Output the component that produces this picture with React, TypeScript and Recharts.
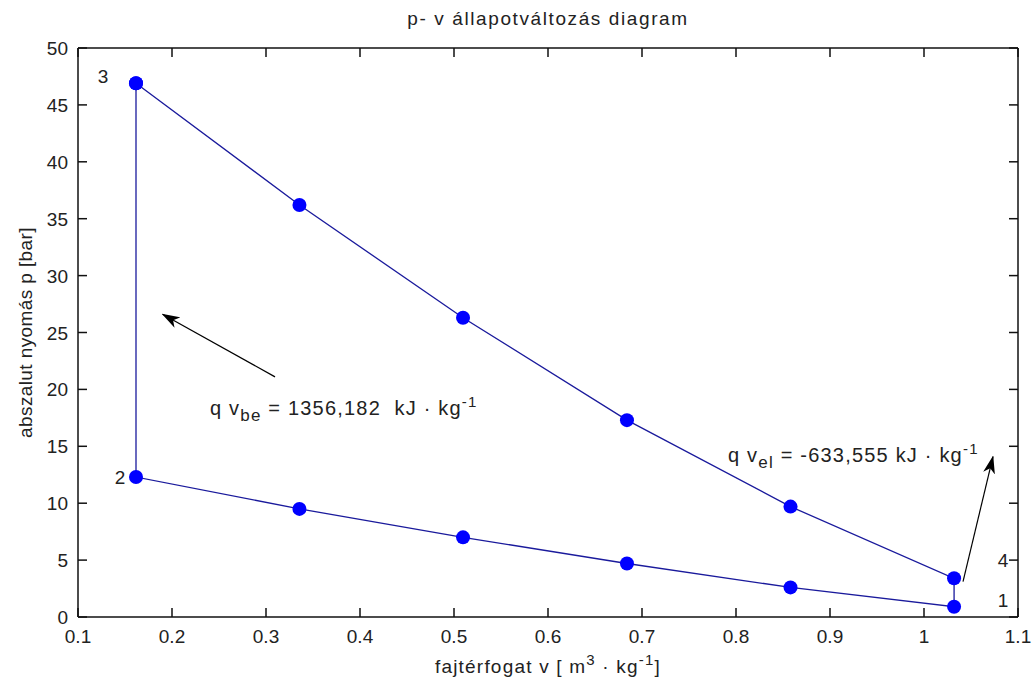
import {
  ScatterChart,
  Scatter,
  XAxis,
  YAxis,
  ReferenceLine,
  ReferenceDot,
} from "recharts";

// fajtérfogat v [m3/kg] at the measured states
const vValues = [0.1617, 0.3356, 0.5096, 0.684, 0.858, 1.032];
// upper branch 3 -> 4 (expansion) and lower branch 2 -> 1 (compression), bar
const pUpper = [46.9, 36.2, 26.3, 17.3, 9.7, 3.4];
const pLower = [12.3, 9.5, 7.0, 4.7, 2.6, 0.9];

const xTicks = [0.1, 0.2, 0.3, 0.4, 0.5, 0.6, 0.7, 0.8, 0.9, 1, 1.1];
const yTicks = [0, 5, 10, 15, 20, 25, 30, 35, 40, 45, 50];

// state numbers placed next to the corner points
const stateLabels = [
  { name: "3", v: 0.1266, p: 47.5 },
  { name: "2", v: 0.1447, p: 12.3 },
  { name: "4", v: 1.084, p: 5.0 },
  { name: "1", v: 1.084, p: 1.5 },
];

// heat arrows (tail -> head) in data units
const arrowBe = [
  { x: 0.3096, y: 21.1 },
  { x: 0.19, y: 26.6 },
];
const arrowEl = [
  { x: 1.0415, y: 3.1 },
  { x: 1.0734, y: 14.1 },
];

// closed cycle: 3 -> 4 along the upper branch, 1 -> 2 back along the lower one
const cycle = [
  ...vValues.map((v, i) => ({ v, p: pUpper[i] })),
  ...vValues
    .map((v, i) => ({ v, p: pLower[i] }))
    .reverse(),
  { v: vValues[0], p: pUpper[0] },
];

const X_MIN = 0.1;
const X_MAX = 1.1;
const Y_MIN = 0;
const Y_MAX = 50;
// inward tick length (~9px) expressed in axis units
const X_TICK_LEN = 0.0096;
const Y_TICK_LEN = 0.79;

const FONT = "'Liberation Sans', Arial, sans-serif";
const TXT = "#222";
const FS = 19;
const LS = 1.2;

const BottomTick = (props: any) => {
  const { x, y, payload } = props;
  return (
    <text x={x} y={y + 26} textAnchor="middle" fontSize={FS} fill={TXT} fontFamily={FONT}>
      {payload.value}
    </text>
  );
};

const LeftTick = (props: any) => {
  const { x, y, payload } = props;
  return (
    <text x={x} y={y + 7} textAnchor="end" fontSize={FS} fill={TXT} fontFamily={FONT}>
      {payload.value}
    </text>
  );
};

const Dot = (props: any) => (
  <circle cx={props.cx} cy={props.cy} r={7} fill="#0000ff" />
);

const axisLine = { stroke: "#111", strokeWidth: 1.5 };

const App = () => {
  return (
    <div style={{ position: "absolute", left: 0, top: 0, background: "#fff" }}>
      <svg width={0} height={0} style={{ position: "absolute" }}>
        <defs>
          <marker
            id="head"
            markerUnits="userSpaceOnUse"
            viewBox="0 0 18 12"
            markerWidth={18}
            markerHeight={12}
            refX={17}
            refY={6}
            orient="auto"
          >
            <path d="M0,0 L18,6 L0,12 L5,6 Z" fill="#000" />
          </marker>
        </defs>
      </svg>
      <ScatterChart
        width={1035}
        height={688}
        margin={{ top: 47, right: 16, bottom: 0, left: 0 }}
        style={{ fontFamily: FONT }}
      >
        <XAxis
          dataKey="v"
          type="number"
          domain={[X_MIN, X_MAX]}
          ticks={xTicks}
          allowDataOverflow
          height={71}
          tickSize={0}
          tickMargin={0}
          tickLine={false}
          axisLine={axisLine}
          tick={<BottomTick />}
          label={{
            content: (p: any) => {
              const vb = p.viewBox;
              return (
                <text
                  x={vb.x + vb.width / 2}
                  y={vb.y + 56}
                  textAnchor="middle"
                  fontSize={FS}
                  letterSpacing={LS}
                  fill={TXT}
                  fontFamily={FONT}
                >
                  fajtérfogat v [ m
                  <tspan dy={-8} fontSize={15}>3</tspan>
                  <tspan dy={8}> · kg</tspan>
                  <tspan dy={-8} fontSize={15}>-1</tspan>
                  <tspan dy={8}>]</tspan>
                </text>
              );
            },
          }}
        />
        <XAxis
          xAxisId="top"
          orientation="top"
          type="number"
          domain={[X_MIN, X_MAX]}
          ticks={xTicks}
          allowDataOverflow
          height={1}
          tickLine={false}
          tick={false}
          axisLine={axisLine}
          label={{
            content: (p: any) => {
              const vb = p.viewBox;
              return (
                <text
                  x={vb.x + vb.width / 2}
                  y={vb.y - 22}
                  textAnchor="middle"
                  fontSize={19}
                  letterSpacing={1.6}
                  fill={TXT}
                  fontFamily={FONT}
                >
                  p- v állapotváltozás diagram
                </text>
              );
            },
          }}
        />
        <YAxis
          dataKey="p"
          type="number"
          domain={[Y_MIN, Y_MAX]}
          ticks={yTicks}
          allowDataOverflow
          width={78}
          tickSize={0}
          tickMargin={10}
          tickLine={false}
          axisLine={axisLine}
          tick={<LeftTick />}
          label={{
            content: (p: any) => {
              const vb = p.viewBox;
              const cx = vb.x + 25;
              const cy = vb.y + vb.height / 2;
              return (
                <text
                  x={cx}
                  y={cy}
                  transform={`rotate(-90 ${cx} ${cy})`}
                  textAnchor="middle"
                  dominantBaseline="central"
                  fontSize={FS}
                  letterSpacing={0.4}
                  fill={TXT}
                  fontFamily={FONT}
                >
                  abszalut nyomás p [bar]
                </text>
              );
            },
          }}
        />
        <YAxis
          yAxisId="right"
          orientation="right"
          type="number"
          domain={[Y_MIN, Y_MAX]}
          ticks={yTicks}
          allowDataOverflow
          width={1}
          tickLine={false}
          tick={false}
          axisLine={axisLine}
        />

        {/* inward tick marks on all four sides (MATLAB box style) */}
        {xTicks.map((t) => (
          <ReferenceLine
            key={`xb-${t}`}
            segment={[
              { x: t, y: Y_MIN },
              { x: t, y: Y_MIN + Y_TICK_LEN },
            ]}
            stroke="#111"
            strokeWidth={1.5}
            ifOverflow="visible"
          />
        ))}
        {xTicks.map((t) => (
          <ReferenceLine
            key={`xt-${t}`}
            segment={[
              { x: t, y: Y_MAX },
              { x: t, y: Y_MAX - Y_TICK_LEN },
            ]}
            stroke="#111"
            strokeWidth={1.5}
            ifOverflow="visible"
          />
        ))}
        {yTicks.map((t) => (
          <ReferenceLine
            key={`yl-${t}`}
            segment={[
              { x: X_MIN, y: t },
              { x: X_MIN + X_TICK_LEN, y: t },
            ]}
            stroke="#111"
            strokeWidth={1.5}
            ifOverflow="visible"
          />
        ))}
        {yTicks.map((t) => (
          <ReferenceLine
            key={`yr-${t}`}
            segment={[
              { x: X_MAX, y: t },
              { x: X_MAX - X_TICK_LEN, y: t },
            ]}
            stroke="#111"
            strokeWidth={1.5}
            ifOverflow="visible"
          />
        ))}

        <Scatter
          data={cycle}
          isAnimationActive={false}
          line={{ stroke: "#1a1a9c", strokeWidth: 1.3 }}
          shape={<Dot />}
        />
        <ReferenceLine
          segment={arrowBe}
          stroke="#000"
          strokeWidth={1.2}
          markerEnd="url(#head)"
          ifOverflow="visible"
        />
        <ReferenceLine
          segment={arrowEl}
          stroke="#000"
          strokeWidth={1.2}
          markerEnd="url(#head)"
          ifOverflow="visible"
        />
        {stateLabels.map((s) => (
          <ReferenceDot
            key={s.name}
            x={s.v}
            y={s.p}
            r={0}
            ifOverflow="visible"
            label={{
              content: (p: any) => (
                <text
                  x={p.viewBox.x}
                  y={p.viewBox.y + 7}
                  textAnchor="middle"
                  fontSize={FS}
                  fill={TXT}
                  fontFamily={FONT}
                >
                  {s.name}
                </text>
              ),
            }}
          />
        ))}
        <ReferenceDot
          x={0.2404}
          y={18.4}
          r={0}
          ifOverflow="visible"
          label={{
            content: (p: any) => (
              <text
                x={p.viewBox.x}
                y={p.viewBox.y + 7}
                fontSize={20}
                letterSpacing={LS}
                fill={TXT}
                fontFamily={FONT}
                xmlSpace="preserve"
              >
                q v
                <tspan dy={6} fontSize={17}>be</tspan>
                <tspan dy={-6}> = 1356,182  kJ · kg</tspan>
                <tspan dy={-8} fontSize={15}>-1</tspan>
              </text>
            ),
          }}
        />
        <ReferenceDot
          x={0.7915}
          y={14.2}
          r={0}
          ifOverflow="visible"
          label={{
            content: (p: any) => (
              <text
                x={p.viewBox.x}
                y={p.viewBox.y + 7}
                fontSize={20}
                letterSpacing={LS}
                fill={TXT}
                fontFamily={FONT}
              >
                q v
                <tspan dy={6} fontSize={17}>el</tspan>
                <tspan dy={-6}> = -633,555 kJ · kg</tspan>
                <tspan dy={-8} fontSize={15}>-1</tspan>
              </text>
            ),
          }}
        />
      </ScatterChart>
    </div>
  );
};

export default App;
